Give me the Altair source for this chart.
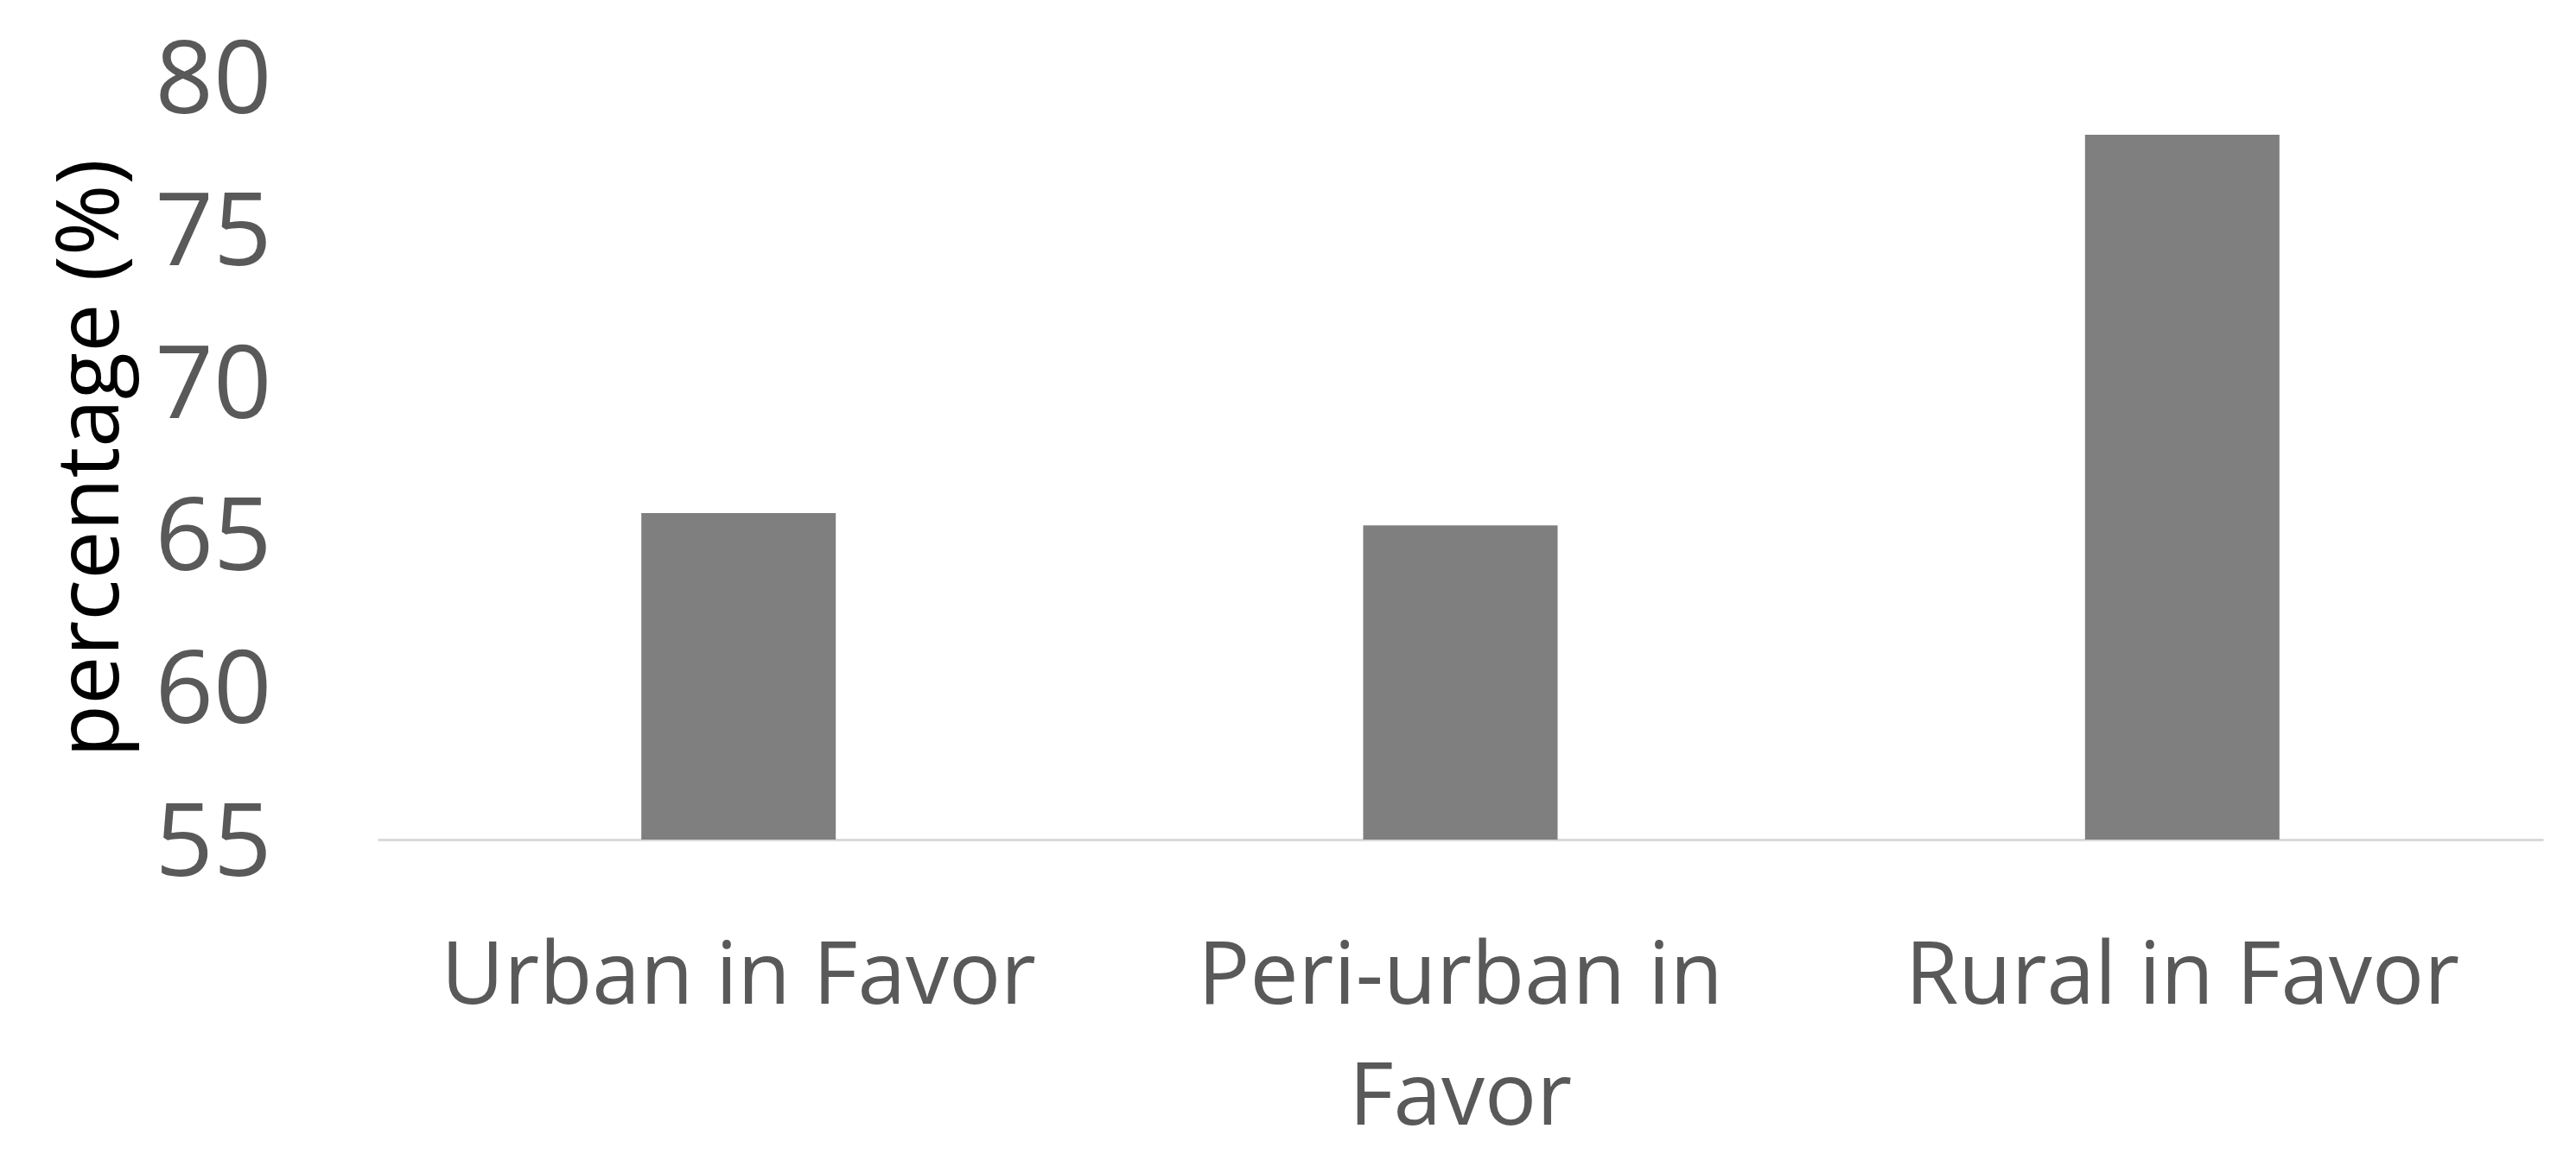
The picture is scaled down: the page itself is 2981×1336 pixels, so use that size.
import altair as alt
import pandas as pd

categories = ["Urban in Favor", "Peri-urban in Favor", "Rural in Favor"]
values = [65.7, 65.3, 78.1]

df = pd.DataFrame({"category": categories, "value": values})

FONT = "Open Sans"

chart = alt.Chart(df).mark_bar(size=225, color="#7f7f7f", clip=True).encode(
    x=alt.X(
        "category:N",
        sort=categories,
        scale=alt.Scale(paddingInner=0, paddingOuter=0),
        axis=alt.Axis(
            title=None,
            labelAngle=0,
            labelFont=FONT,
            labelFontSize=100,
            labelColor="#595959",
            labelPadding=110,
            labelLineHeight=140,
            labelLimit=2000,
            labelOverlap=False,
            labelExpr="datum.label == 'Peri-urban in Favor' ? ['Peri-urban in', 'Favor'] : datum.label",
            ticks=False,
            domainColor="#d9d9d9",
            domainWidth=3,
            grid=False,
        ),
    ),
    y=alt.Y(
        "value:Q",
        scale=alt.Scale(domain=[55, 80], nice=False, zero=False),
        axis=alt.Axis(
            values=[55, 60, 65, 70, 75, 80],
            title="percentage (%)",
            titleFont=FONT,
            titleFontSize=100,
            titleFontWeight="normal",
            titleColor="#000000",
            titleX=-331,
            titleY=441,
            titleAlign="center",
            titleBaseline="middle",
            titleAngle=270,
            labelFont=FONT,
            labelFontSize=118,
            labelColor="#595959",
            labelPadding=123,
            labelOffset=6,
            labelLimit=1000,
            labelFlush=False,
            labelOverlap=False,
            ticks=False,
            domain=False,
            grid=False,
        ),
    ),
).properties(
    width=2506,
    height=883,
    autosize=alt.AutoSizeParams(type="none"),
    padding={"left": 429, "top": 81, "right": 30, "bottom": 370},
).configure_view(stroke=None)

chart.save("out.html", embed_options={"renderer": "svg", "actions": False})
